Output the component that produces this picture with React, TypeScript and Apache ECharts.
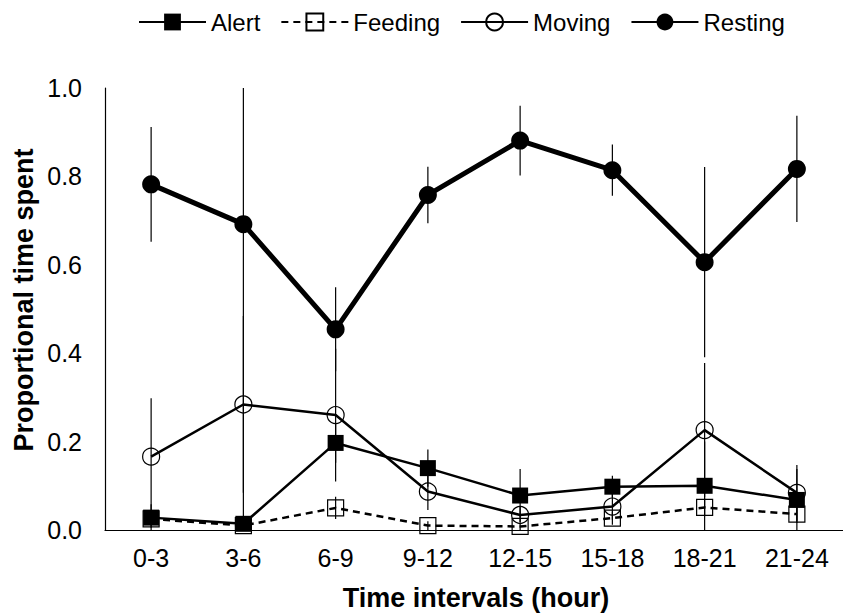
import React, { useEffect, useRef } from 'react';
import * as echarts from 'echarts';

const categories = ['0-3', '3-6', '6-9', '9-12', '12-15', '15-18', '18-21', '21-24'];

const alertValues = [0.028, 0.014, 0.197, 0.14, 0.078, 0.098, 0.1, 0.068];
const alertErrors = [0.03, 0.014, 0.045, 0.042, 0.06, 0.025, 0.1, 0.07];

const feedingValues = [0.025, 0.01, 0.05, 0.01, 0.008, 0.027, 0.051, 0.036];
const feedingErrors = [0.02, 0.01, 0.025, 0.01, 0.008, 0.015, 0.02, 0.02];

const movingValues = [0.166, 0.284, 0.26, 0.087, 0.034, 0.053, 0.226, 0.084];
const movingErrors = [0.132, 0.2, 0.15, 0.042, 0.02, 0.03, 0.152, 0.063];

const restingValues = [0.782, 0.692, 0.454, 0.758, 0.881, 0.814, 0.606, 0.817];
const restingErrors = [0.13, 0.7, 0.095, 0.064, 0.079, 0.058, 0.215, 0.12];

const FONT = "'Liberation Sans', Arial, sans-serif";

// vertical error bar (no caps), clipped to the grid
const errorBars = (name: string, values: number[], errors: number[]) => ({
  name: name + ' error',
  type: 'custom',
  clip: true,
  silent: true,
  z: 1,
  data: values.map((v, i) => [i, v - errors[i], v + errors[i]]),
  renderItem: (params: any, api: any) => {
    const lo = api.coord([api.value(0), api.value(1)]);
    const hi = api.coord([api.value(0), api.value(2)]);
    return {
      type: 'line',
      shape: { x1: lo[0], y1: lo[1], x2: hi[0], y2: hi[1] },
      style: { stroke: '#000', lineWidth: 1.2 }
    };
  }
});

const Chart: React.FC = () => {
  const chartRef = useRef<HTMLDivElement>(null);

  useEffect(() => {
    if (!chartRef.current) return;
    const myChart = echarts.init(chartRef.current, null, { renderer: 'svg' });

    const option = {
      animation: false,
      textStyle: { fontFamily: FONT, color: '#000' },
      legend: {
        left: 133,
        top: 5,
        itemWidth: 67,
        itemHeight: 21,
        itemGap: 20,
        data: ['Alert', 'Feeding', 'Moving', 'Resting'],
        textStyle: { fontFamily: FONT, fontSize: 24, color: '#000' }
      },
      grid: { left: 105, top: 88, bottom: 85, right: -6 },
      xAxis: {
        type: 'category',
        data: categories,
        boundaryGap: true,
        axisLine: { lineStyle: { color: '#000', width: 1.2 } },
        axisTick: { show: false },
        axisLabel: { fontFamily: FONT, fontSize: 25, color: '#000', margin: 15 }
      },
      yAxis: {
        type: 'value',
        min: 0,
        max: 1,
        interval: 0.2,
        axisLine: { show: true, lineStyle: { color: '#000', width: 1.2 } },
        axisTick: { show: false },
        splitLine: { show: false },
        axisLabel: {
          fontFamily: FONT,
          fontSize: 25,
          color: '#000',
          margin: 23,
          formatter: (v: number) => v.toFixed(1)
        }
      },
      graphic: [
        {
          type: 'text',
          x: 476,
          y: 598,
          style: {
            text: 'Time intervals (hour)',
            font: `bold 27px ${FONT}`,
            fill: '#000',
            textAlign: 'center',
            textVerticalAlign: 'middle'
          }
        },
        {
          type: 'text',
          x: 24,
          y: 300,
          rotation: Math.PI / 2,
          style: {
            text: 'Proportional time spent',
            font: `bold 27px ${FONT}`,
            fill: '#000',
            textAlign: 'center',
            textVerticalAlign: 'middle'
          }
        }
      ],
      series: [
        errorBars('Feeding', feedingValues, feedingErrors),
        errorBars('Moving', movingValues, movingErrors),
        errorBars('Alert', alertValues, alertErrors),
        errorBars('Resting', restingValues, restingErrors),
        {
          name: 'Feeding',
          type: 'line',
          data: feedingValues,
          z: 2,
          symbol: 'rect',
          symbolSize: 16,
          lineStyle: { color: '#000', width: 2.5, type: [7, 5] },
          itemStyle: { color: 'rgba(255,255,255,0)', borderColor: '#000', borderWidth: 1.2 }
        },
        {
          name: 'Moving',
          type: 'line',
          data: movingValues,
          z: 3,
          symbol: 'circle',
          symbolSize: 17,
          lineStyle: { color: '#000', width: 2.5 },
          itemStyle: { color: 'rgba(255,255,255,0)', borderColor: '#000', borderWidth: 1.2 }
        },
        {
          name: 'Alert',
          type: 'line',
          data: alertValues,
          z: 4,
          symbol: 'rect',
          symbolSize: 16,
          lineStyle: { color: '#000', width: 2.5 },
          itemStyle: { color: '#000' }
        },
        {
          name: 'Resting',
          type: 'line',
          data: restingValues,
          z: 5,
          symbol: 'circle',
          symbolSize: 18,
          lineStyle: { color: '#000', width: 5 },
          itemStyle: { color: '#000' }
        }
      ]
    };

    myChart.setOption(option);

    return () => {
      myChart.dispose();
    };
  }, []);

  return (
    <div
      ref={chartRef}
      style={{ position: 'absolute', left: 0, top: 0, width: 843, height: 615, background: '#fff' }}
    />
  );
};

export default function App() {
  return <Chart />;
}
